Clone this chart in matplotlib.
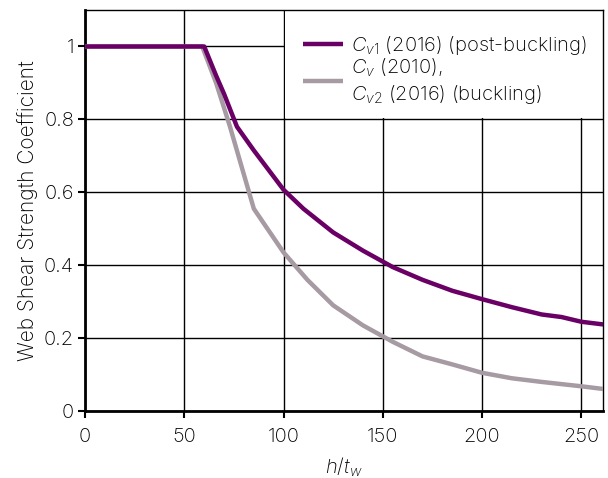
import matplotlib
matplotlib.use("Agg")
import matplotlib.pyplot as plt
from matplotlib.patches import Rectangle

FONT = 'Inter'
plt.rcParams['font.family'] = [FONT, 'DejaVu Sans']
plt.rcParams['font.weight'] = 'light'
plt.rcParams['axes.labelweight'] = 'light'
plt.rcParams['mathtext.fontset'] = 'custom'
plt.rcParams['mathtext.rm'] = FONT + ':light'
plt.rcParams['mathtext.it'] = FONT + ':italic:light'

# Data
cv1_x = [0, 60, 66, 70, 76.5, 85, 100, 110, 125, 140, 155, 170, 185, 200, 215, 230, 240, 250, 262]
cv1_y = [1.0, 1.0, 0.92, 0.87, 0.78, 0.715, 0.607, 0.555, 0.49, 0.44, 0.395, 0.36, 0.33, 0.307, 0.285, 0.265, 0.258, 0.245, 0.237]

cv2_x = [0, 59, 66, 73, 85, 100, 112, 125, 140, 155, 170, 185, 200, 215, 230, 250, 262]
cv2_y = [1.0, 1.0, 0.90, 0.78, 0.555, 0.435, 0.36, 0.29, 0.235, 0.19, 0.15, 0.128, 0.105, 0.09, 0.08, 0.068, 0.06]

labels = ["$C_{v1}$ (2016) (post-buckling)", "$C_{v}$ (2010),\n$C_{v2}$ (2016) (buckling)"]
xticks = [0, 50, 100, 150, 200, 250]
yticks = [0, 0.2, 0.4, 0.6, 0.8, 1.0]
ytick_labels = ["0", "0.2", "0.4", "0.6", "0.8", "1"]

fig = plt.figure(figsize=(6.08, 4.78), dpi=100)
ax = fig.add_axes([0.140, 0.140, 0.852, 0.839])

ax.plot(cv1_x, cv1_y, color='#6a0066', lw=3.2, label=labels[0], zorder=4, solid_capstyle='butt')
ax.plot(cv2_x, cv2_y, color='#a69aa3', lw=3.2, label=labels[1], zorder=3, solid_capstyle='butt')

ax.set_xlim(0, 261)
ax.set_ylim(0, 1.1)
ax.set_xticks(xticks)
ax.set_yticks(yticks)
ax.set_yticklabels(ytick_labels)
ax.grid(True, color='black', lw=1.0)
ax.set_axisbelow(True)

# white panel behind the legend (covers grid in the top-right cell block)
ax.add_patch(Rectangle((100 / 261 + 0.003, 0.8 / 1.1 + 0.003), 1, 1, transform=ax.transAxes,
                       facecolor='white', edgecolor='none', zorder=1, clip_on=True))

for s in ['left', 'bottom']:
    ax.spines[s].set_linewidth(2.0)
for s in ['top', 'right']:
    ax.spines[s].set_linewidth(1.0)

ax.tick_params(axis='both', labelsize=14.5, direction='out', length=5, width=1.5, colors='black')
ax.tick_params(axis='x', pad=7)
ax.tick_params(axis='y', pad=3)

ax.set_xlabel("$h/t_w$", fontsize=14.5)
ax.xaxis.set_label_coords(0.5, -0.112)
ax.set_ylabel("Web Shear Strength Coefficient", fontsize=15, labelpad=4)

leg = ax.legend(loc='upper right', frameon=False, fontsize=14.5, handlelength=2.0,
                handletextpad=0.4, labelspacing=0.0, borderaxespad=0.0,
                bbox_to_anchor=(0.985, 0.96))

fig.savefig("out.png", dpi=100)
